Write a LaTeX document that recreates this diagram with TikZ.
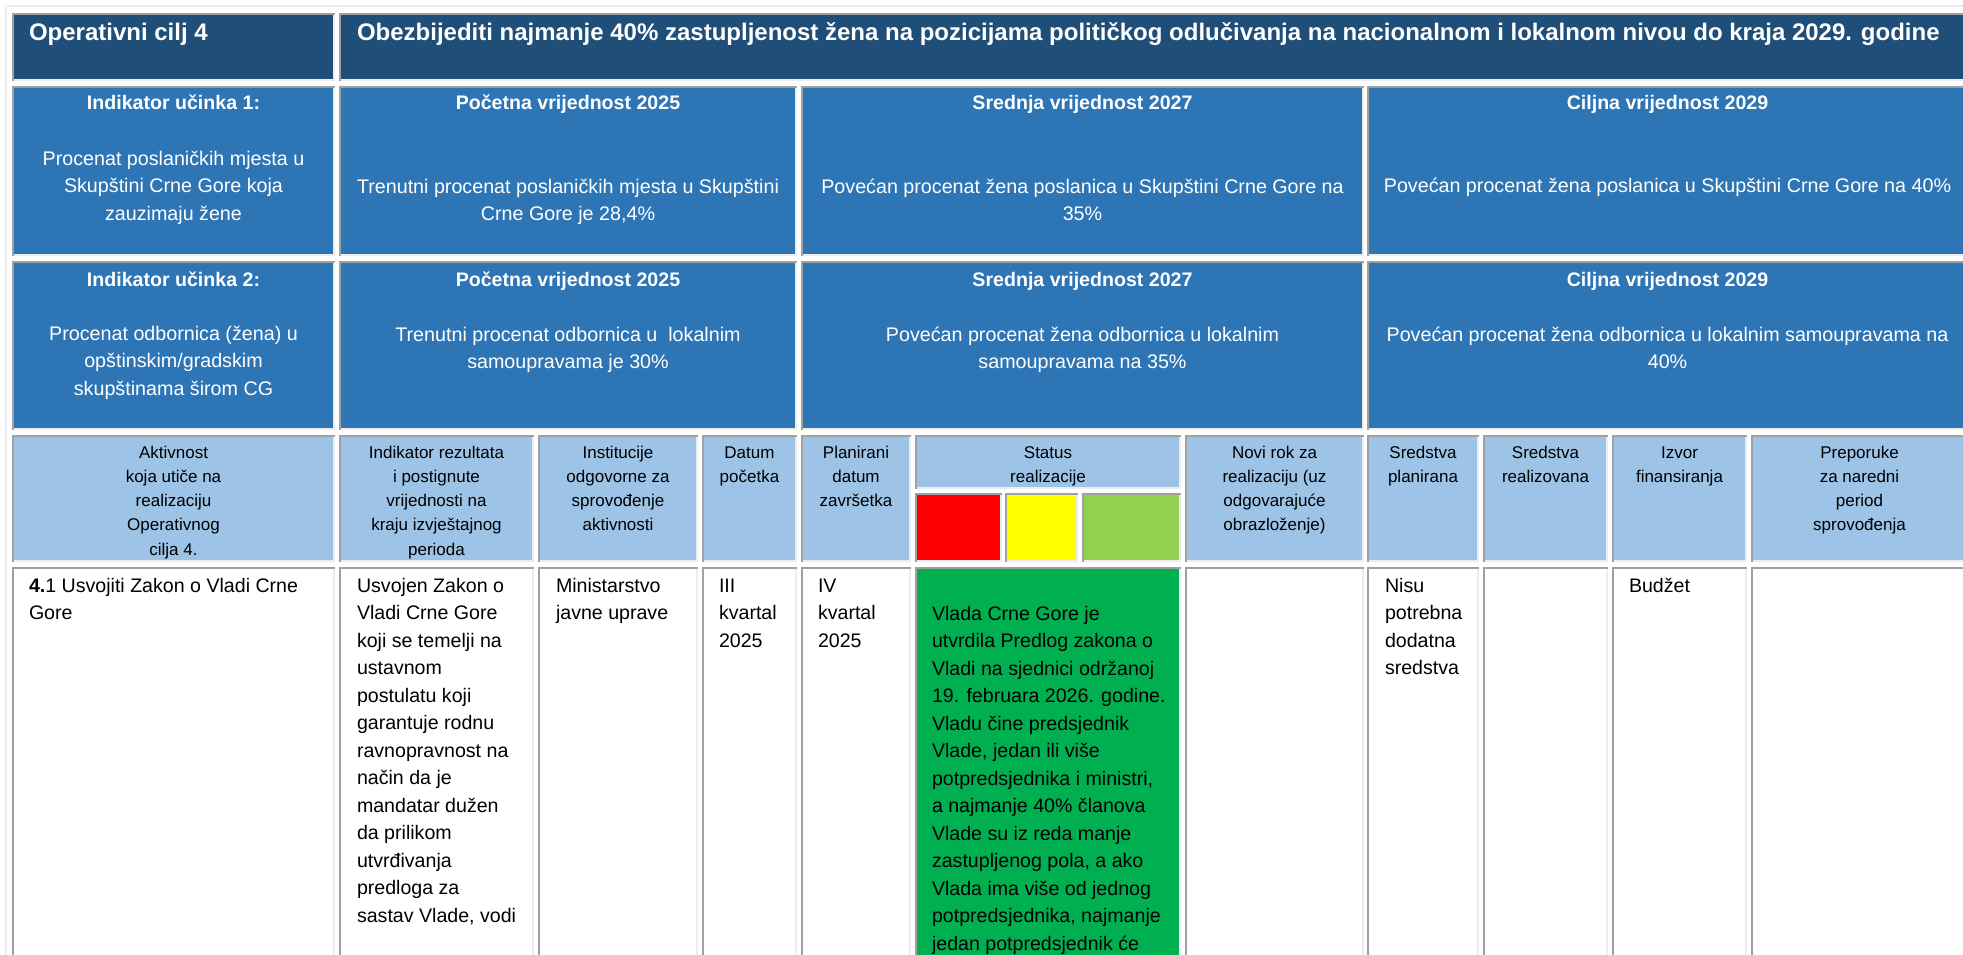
\documentclass[tikz,border=0pt]{standalone}
\usepackage{fontspec}
\setmainfont{Liberation Sans}
\definecolor{navy}{HTML}{1F4E79}
\definecolor{midblue}{HTML}{2E75B6}
\definecolor{lightblue}{HTML}{9DC3E6}
\definecolor{bdark}{HTML}{A0A0A0}
\definecolor{blight}{HTML}{EDEDED}
\definecolor{stred}{HTML}{FF0000}
\definecolor{styellow}{HTML}{FFFF00}
\definecolor{stlgreen}{HTML}{92D050}
\definecolor{stgreen}{HTML}{00B050}
\newcommand{\tblcell}[5]{%
  \fill[#5] (#1,#2) rectangle (#3,#4);
  \fill[bdark] (#1,#2) rectangle (#3,#2+2);
  \fill[bdark] (#1,#2) rectangle (#1+2,#4);
  \fill[blight] (#1+2,#4-2) rectangle (#3,#4);
  \fill[blight] (#3-2,#2+2) rectangle (#3,#4);
}
% multi-line nodes are anchored at the baseline of their LAST line
\tikzset{
  txt/.style={inner sep=0pt, outer sep=0pt},
  titletxt/.style={txt, anchor=base west, text=white, font=\fontsize{24}{29}\selectfont\bfseries},
  bluehead/.style={txt, anchor=base, align=center, text=white, font=\fontsize{19.6}{27.5}\selectfont\bfseries},
  bluetxt/.style={txt, anchor=base, align=center, text=white, font=\fontsize{19.7}{27.5}\selectfont},
  headtxt/.style={txt, anchor=base, align=center, text=black, font=\fontsize{17}{24.3}\selectfont},
  datatxt/.style={txt, anchor=base west, align=left, text=black, font=\fontsize{19.6}{27.5}\selectfont},
  greentxt/.style={txt, anchor=base west, align=left, text=black, font=\fontsize{19.6}{27.5}\selectfont},
}
\begin{document}
\begin{tikzpicture}[x=1pt,y=-1pt]
\useasboundingbox (0,0) rectangle (1963,955);
\clip (0,0) rectangle (1963,955);
\fill[white] (0,0) rectangle (1963,955);
% outer table frame
\fill[blight] (5,5) rectangle (1963,7);
\fill[blight] (5,5) rectangle (7,955);
% row 1
\tblcell{12}{13}{335}{81}{navy}
\tblcell{339}{13}{1968}{81}{navy}
% row 2
\tblcell{12}{86}{335}{256}{midblue}
\tblcell{339}{86}{797}{256}{midblue}
\tblcell{801}{86}{1364}{256}{midblue}
\tblcell{1367}{86}{1968}{256}{midblue}
% row 3
\tblcell{12}{261}{335}{430}{midblue}
\tblcell{339}{261}{797}{430}{midblue}
\tblcell{801}{261}{1364}{430}{midblue}
\tblcell{1367}{261}{1968}{430}{midblue}
% header row
\tblcell{12}{435}{335}{562}{lightblue}
\tblcell{339}{435}{534}{562}{lightblue}
\tblcell{538}{435}{698}{562}{lightblue}
\tblcell{702}{435}{797}{562}{lightblue}
\tblcell{801}{435}{911}{562}{lightblue}
\tblcell{915}{435}{1181}{489}{lightblue}
\tblcell{915}{493}{1002}{562}{stred}
\tblcell{1005}{493}{1078}{562}{styellow}
\tblcell{1082}{493}{1181}{562}{stlgreen}
\tblcell{1185}{435}{1364}{562}{lightblue}
\tblcell{1367}{435}{1479}{562}{lightblue}
\tblcell{1483}{435}{1608}{562}{lightblue}
\tblcell{1612}{435}{1747}{562}{lightblue}
\tblcell{1751}{435}{1968}{562}{lightblue}
% data row
\tblcell{12}{567}{335}{970}{white}
\tblcell{339}{567}{534}{970}{white}
\tblcell{538}{567}{698}{970}{white}
\tblcell{702}{567}{797}{970}{white}
\tblcell{801}{567}{911}{970}{white}
\tblcell{915}{567}{1181}{970}{stgreen}
\tblcell{1185}{567}{1364}{970}{white}
\tblcell{1367}{567}{1479}{970}{white}
\tblcell{1483}{567}{1608}{970}{white}
\tblcell{1612}{567}{1747}{970}{white}
\tblcell{1751}{567}{1968}{970}{white}
% row 1 text
\node[titletxt] (t1) at (29,41) {Operativni cilj 4};
\node[titletxt] (t2) at (357,41) {Obezbijediti najmanje 40\% zastupljenost žena na pozicijama političkog odlučivanja na nacionalnom i lokalnom nivou do kraja 2029. godine};
% row 2 text
\node[bluehead] (i1h) at (173.5,110) {Indikator učinka 1:};
\node[bluetxt] (i1b) at (173.5,220) {Procenat poslaničkih mjesta u\\Skupštini Crne Gore koja\\zauzimaju žene};
\node[bluehead] (p1h) at (568,110) {Početna vrijednost 2025};
\node[bluetxt] (p1b) at (568,220.5) {Trenutni procenat poslaničkih mjesta u Skupštini\\Crne Gore je 28,4\%};
\node[bluehead] (s1h) at (1082.5,110) {Srednja vrijednost 2027};
\node[bluetxt] (s1b) at (1082.5,220.5) {Povećan procenat žena poslanica u Skupštini Crne Gore na\\35\%};
\node[bluehead] (c1h) at (1667.5,110) {Ciljna vrijednost 2029};
\node[bluetxt] (c1b) at (1667.5,193) {Povećan procenat žena poslanica u Skupštini Crne Gore na 40\%};
% row 3 text
\node[bluehead] (i2h) at (173.5,286) {Indikator učinka 2:};
\node[bluetxt] (i2b) at (173.5,395) {Procenat odbornica (žena) u\\opštinskim/gradskim\\skupštinama širom CG};
\node[bluehead] (p2h) at (568,286) {Početna vrijednost 2025};
\node[bluetxt] (p2b) at (568,368.5) {Trenutni procenat odbornica u~ lokalnim\\samoupravama je 30\%};
\node[bluehead] (s2h) at (1082.5,286) {Srednja vrijednost 2027};
\node[bluetxt] (s2b) at (1082.5,368.5) {Povećan procenat žena odbornica u lokalnim\\samoupravama na 35\%};
\node[bluehead] (c2h) at (1667.5,286) {Ciljna vrijednost 2029};
\node[bluetxt] (c2b) at (1667.5,368.5) {Povećan procenat žena odbornica u lokalnim samoupravama na\\40\%};
% header text
\node[headtxt] (h1) at (173.5,555.2) {Aktivnost\\koja utiče na\\realizaciju\\Operativnog\\cilja 4.};
\node[headtxt] (h2) at (436.5,555.2) {Indikator rezultata\\i postignute\\vrijednosti na\\kraju izvještajnog\\perioda};
\node[headtxt] (h3) at (618,530.9) {Institucije\\odgovorne za\\sprovođenje\\aktivnosti};
\node[headtxt] (h4) at (749.5,482.3) {Datum\\početka};
\node[headtxt] (h5) at (856,506.6) {Planirani\\datum\\završetka};
\node[headtxt] (hst) at (1048,482.3) {Status\\realizacije};
\node[headtxt] (hnr) at (1274.5,530.9) {Novi rok za\\realizaciju (uz\\odgovarajuće\\obrazloženje)};
\node[headtxt] (hsp) at (1423,482.3) {Sredstva\\planirana};
\node[headtxt] (hsr) at (1545.5,482.3) {Sredstva\\realizovana};
\node[headtxt] (hiz) at (1679.5,482.3) {Izvor\\finansiranja};
\node[headtxt] (hpr) at (1859.5,530.9) {Preporuke\\za naredni\\period\\sprovođenja};
% data text
\node[datatxt] (d1) at (29,619.5) {\textbf{4.}1 Usvojiti Zakon o Vladi Crne\\Gore};
\node[datatxt] (d2) at (357,922) {Usvojen Zakon o\\Vladi Crne Gore\\koji se temelji na\\ustavnom\\postulatu koji\\garantuje rodnu\\ravnopravnost na\\način da je\\mandatar dužen\\da prilikom\\utvrđivanja\\predloga za\\sastav Vlade, vodi};
\node[datatxt] (d3) at (556,619.5) {Ministarstvo\\javne uprave};
\node[datatxt] (d4) at (719,647) {III\\kvartal\\2025};
\node[datatxt] (d5) at (818,647) {IV\\kvartal\\2025};
\node[greentxt] (dst) at (932,950) {Vlada Crne Gore je\\utvrdila Predlog zakona o\\Vladi na sjednici održanoj\\19. februara 2026. godine.\\Vladu čine predsjednik\\Vlade, jedan ili više\\potpredsjednika i ministri,\\a najmanje 40\% članova\\Vlade su iz reda manje\\zastupljenog pola, a ako\\Vlada ima više od jednog\\potpredsjednika, najmanje\\jedan potpredsjednik će};
\node[datatxt] (dsp) at (1385,674.5) {Nisu\\potrebna\\dodatna\\sredstva};
\node[datatxt] (diz) at (1629,592) {Budžet};
\end{tikzpicture}
\end{document}
